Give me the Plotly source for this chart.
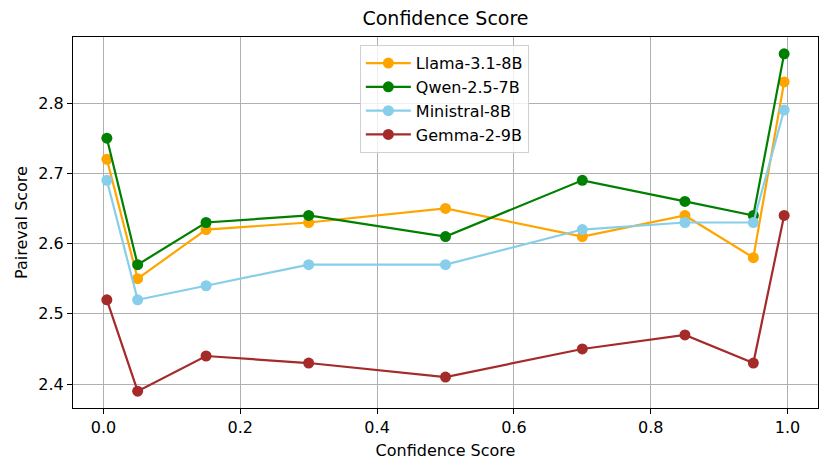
import plotly.graph_objects as go

x_vals = [0.005, 0.05, 0.15, 0.3, 0.5, 0.7, 0.85, 0.95, 0.995]
llama = [2.72, 2.55, 2.62, 2.63, 2.65, 2.61, 2.64, 2.58, 2.83]
qwen = [2.75, 2.57, 2.63, 2.64, 2.61, 2.69, 2.66, 2.64, 2.87]
ministral = [2.69, 2.52, 2.54, 2.57, 2.57, 2.62, 2.63, 2.63, 2.79]
gemma = [2.52, 2.39, 2.44, 2.43, 2.41, 2.45, 2.47, 2.43, 2.64]

series = [
    ("Llama-3.1-8B", llama, "#FFA500"),
    ("Qwen-2.5-7B", qwen, "#008000"),
    ("Ministral-8B", ministral, "#87CEEB"),
    ("Gemma-2-9B", gemma, "#A52A2A"),
]

fig = go.Figure()
for name, ys, color in series:
    fig.add_trace(go.Scatter(
        x=x_vals, y=ys, name=name, mode="lines+markers",
        line=dict(color=color, width=2.2),
        marker=dict(color=color, size=11),
    ))

axis_common = dict(
    showgrid=True, gridcolor="#b0b0b0", gridwidth=1,
    showline=True, linecolor="black", linewidth=1.2, mirror=True,
    ticks="outside", ticklen=5, tickcolor="black",
    zeroline=False, tickfont=dict(size=16, color="black"),
    automargin=False,
)

fig.update_layout(
    width=823, height=463,
    plot_bgcolor="white", paper_bgcolor="white",
    font=dict(family="DejaVu Sans", color="black"),
    margin=dict(l=65, r=13, t=29, b=63, autoexpand=False),
    title=dict(text="Confidence Score", x=0.5, xanchor="center", xref="paper",
               y=0.978, yanchor="middle", font=dict(size=19)),
    xaxis=dict(title=dict(text="Confidence Score", font=dict(size=16), standoff=8),
               range=[-0.0445, 1.0445], tickvals=[0, 0.2, 0.4, 0.6, 0.8, 1.0],
               ticktext=["0.0", "0.2", "0.4", "0.6", "0.8", "1.0"], **axis_common),
    yaxis=dict(title=dict(text="Paireval Score", font=dict(size=16), standoff=6),
               range=[2.366, 2.894], tickvals=[2.4, 2.5, 2.6, 2.7, 2.8],
               ticktext=["2.4", "2.5", "2.6", "2.7", "2.8"], **axis_common),
    legend=dict(x=0.385, y=0.978, xanchor="left", yanchor="top",
                bgcolor="rgba(255,255,255,0.8)", bordercolor="#d0d0d0", borderwidth=1,
                font=dict(size=16), itemwidth=45),
    showlegend=True,
)

fig.write_html("out.html")
